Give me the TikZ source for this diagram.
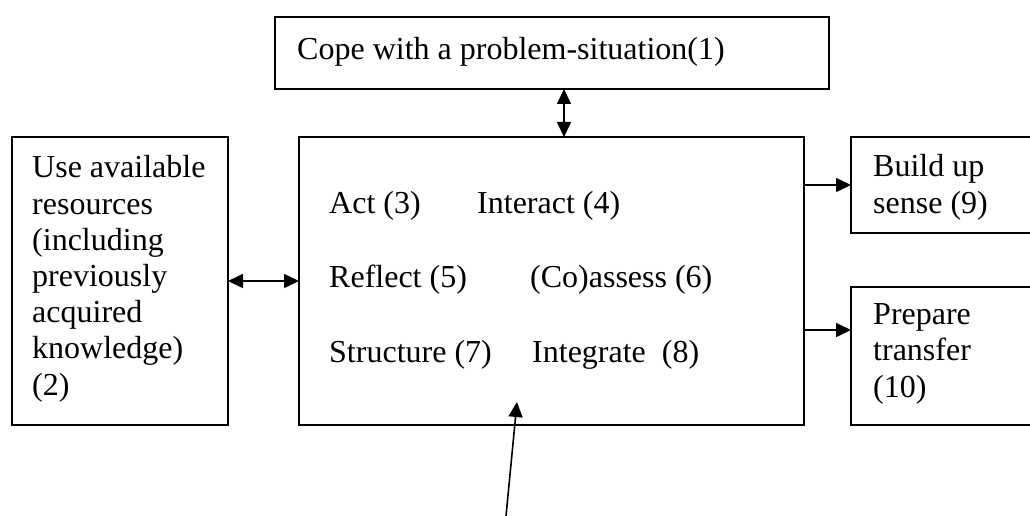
\documentclass[tikz,border=0pt]{standalone}
\usepackage{fontspec}
\setmainfont{Liberation Serif}
\usepackage{tikz}
\usetikzlibrary{positioning,arrows.meta}

\begin{document}
\begin{tikzpicture}[
  x=1pt, y=-1pt,
  box/.style={draw, line width=1.6pt, anchor=north west, inner sep=0pt, outer sep=0pt},
  txt/.style={anchor=base west, inner sep=0pt, align=left, font=\fontsize{32}{36.2}\selectfont},
  arr/.style={-{Triangle[length=15pt,width=14pt]}, line width=1.6pt},
  dbl/.style={{Triangle[length=15pt,width=14pt]}-{Triangle[length=15pt,width=14pt]}, line width=1.6pt}
]
  \useasboundingbox (0,0) rectangle (1030,516);

  % boxes
  \node[box, minimum width=554pt, minimum height=72pt] (cope) at (275,17) {};
  \node[box, minimum width=216pt, minimum height=288pt] (res) at (12,137) {};
  \node[box, minimum width=505pt, minimum height=288pt] (core) at (299,137) {};
  \node[box, minimum width=183pt, minimum height=96pt] (sense) at (851,137) {};
  \node[box, minimum width=183pt, minimum height=138pt] (transfer) at (851,287) {};

  % texts (multi-line ones sit on their last line)
  \node[txt] (copetxt) at (297,60) {Cope with a problem-situation(1)};
  \node[txt] (restxt) at (32,395) {Use available\\resources\\(including\\previously\\acquired\\knowledge)\\(2)};
  \node[txt] (act) at (329,213) {Act (3)};
  \node[txt] (inter) at (477,213) {Interact (4)};
  \node[txt] (refl) at (329,287) {Reflect (5)};
  \node[txt] (assess) at (530,287) {(Co)assess (6)};
  \node[txt] (struct) at (329,362) {Structure (7)};
  \node[txt] (integ) at (532,362) {Integrate~~(8)};
  \node[txt] (sensetxt) at (873,213) {Build up\\sense (9)};
  \node[txt] (transtxt) at (873,397) {Prepare\\transfer\\(10)};

  % connectors
  \coordinate (src) at (506,516);
  \coordinate (tip) at (517,402);
  \draw[dbl] ([xshift=12pt]cope.south) -- ([xshift=12pt]cope.south |- core.north);
  \draw[dbl] (res.east) -- (core.west);
  \draw[arr] (sense.west -| core.east) -- (sense.west);
  \draw[arr] ([yshift=26pt]transfer.west -| core.east) -- ([yshift=26pt]transfer.west);
  \draw[arr] (src) -- (tip);
\end{tikzpicture}
\end{document}
